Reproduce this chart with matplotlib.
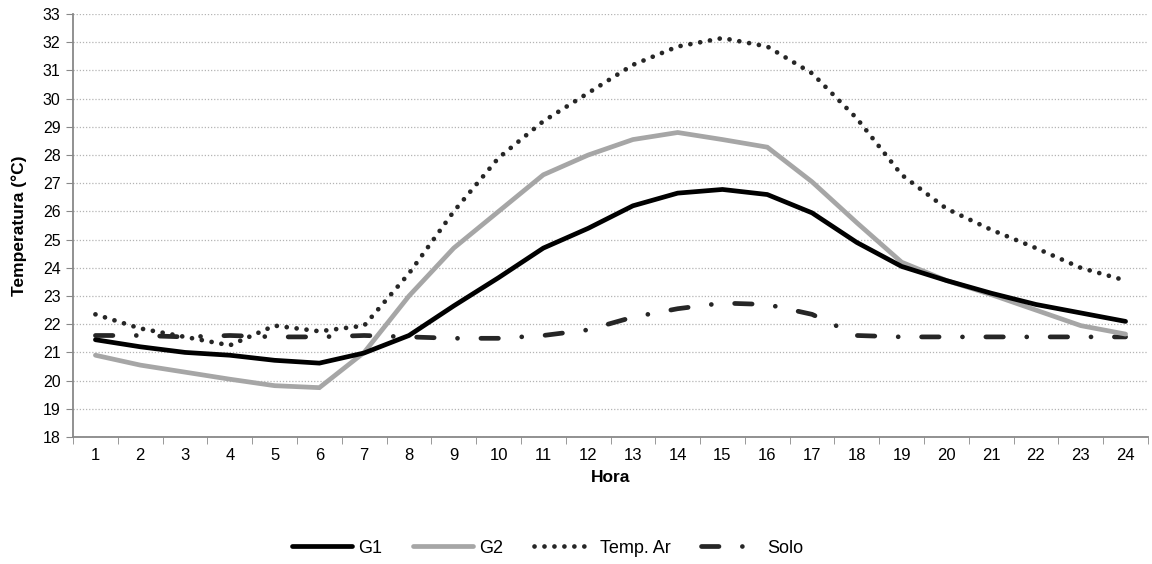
import numpy as np
import matplotlib
matplotlib.use("Agg")
from matplotlib import pyplot as plt

plt.rcParams['font.family'] = ['Liberation Sans', 'DejaVu Sans']

# hourly temperatures
hora = list(range(1, 25))
g1 = [21.45, 21.2, 21.0, 20.9, 20.72, 20.62, 20.98, 21.6, 22.65, 23.65, 24.7, 25.4,
      26.2, 26.65, 26.78, 26.6, 25.95, 24.9, 24.05, 23.55, 23.1, 22.7, 22.4, 22.1]
g2 = [20.9, 20.55, 20.3, 20.05, 19.82, 19.75, 21.0, 23.0, 24.7, 26.0, 27.3, 28.0,
      28.55, 28.8, 28.55, 28.28, 27.05, 25.6, 24.2, 23.55, 23.05, 22.5, 21.95, 21.65]
temp_ar = [22.35, 21.85, 21.55, 21.25, 21.95, 21.75, 21.95, 23.8, 26.0, 27.9, 29.2, 30.2,
           31.2, 31.85, 32.15, 31.85, 30.9, 29.3, 27.3, 26.1, 25.35, 24.7, 24.0, 23.55]
solo = [21.6, 21.6, 21.55, 21.6, 21.55, 21.55, 21.6, 21.55, 21.5, 21.5, 21.6, 21.8,
        22.25, 22.55, 22.75, 22.7, 22.35, 21.6, 21.55, 21.55, 21.55, 21.55, 21.55, 21.55]

fig = plt.figure(figsize=(11.52, 5.64), dpi=100)
ax = fig.add_axes([0.0634, 0.2252, 0.9331, 0.7498])

lw = 3.4
ax.plot(hora, g1, color='black', lw=lw, label='G1', solid_joinstyle='miter',
        solid_capstyle='round', zorder=4)
ax.plot(hora, g2, color='#a6a6a6', lw=lw, label='G2', solid_joinstyle='miter',
        solid_capstyle='round', zorder=3)
ax.plot(hora, temp_ar, color='#262626', lw=lw, label='Temp. Ar',
        dashes=(0.01, 2.1), dash_capstyle='round', zorder=5)
ax.plot(hora, solo, color='#262626', lw=lw, label='Solo',
        dashes=(3.7, 4.95, 0.01, 4.95), dash_capstyle='round', zorder=2)

ax.set_xlim(0.5, 24.5)
ax.set_ylim(18, 33)
ax.set_yticks(np.arange(18, 34, 1))
ax.set_xticks(hora)
ax.set_xticks(np.arange(0.5, 25, 1), minor=True)
ax.tick_params(axis='x', which='major', length=0, pad=8, labelsize=12)
ax.tick_params(axis='x', which='minor', length=5, color='#888888', direction='out')
ax.tick_params(axis='y', length=5, color='#888888', direction='out', labelsize=11.5, pad=4)

ax.grid(axis='y', color='#b4b4b4', linestyle=(0, (1, 1.5)), lw=0.9)
ax.set_axisbelow(True)
for s in ['top', 'right']:
    ax.spines[s].set_visible(False)
for s in ['left', 'bottom']:
    ax.spines[s].set_color('#888888')
    ax.spines[s].set_linewidth(1.3)

ax.set_xlabel('Hora', fontweight='bold', fontsize=12.5, labelpad=5)
ax.set_ylabel('Temperatura (°C)', fontweight='bold', fontsize=12.5, labelpad=11)

fig.legend(loc='center', bbox_to_anchor=(0.4755, 0.028), ncol=4, frameon=False,
           fontsize=13, handlelength=3.3, handletextpad=0.35, columnspacing=1.7)

fig.savefig('out.png', dpi=100)
